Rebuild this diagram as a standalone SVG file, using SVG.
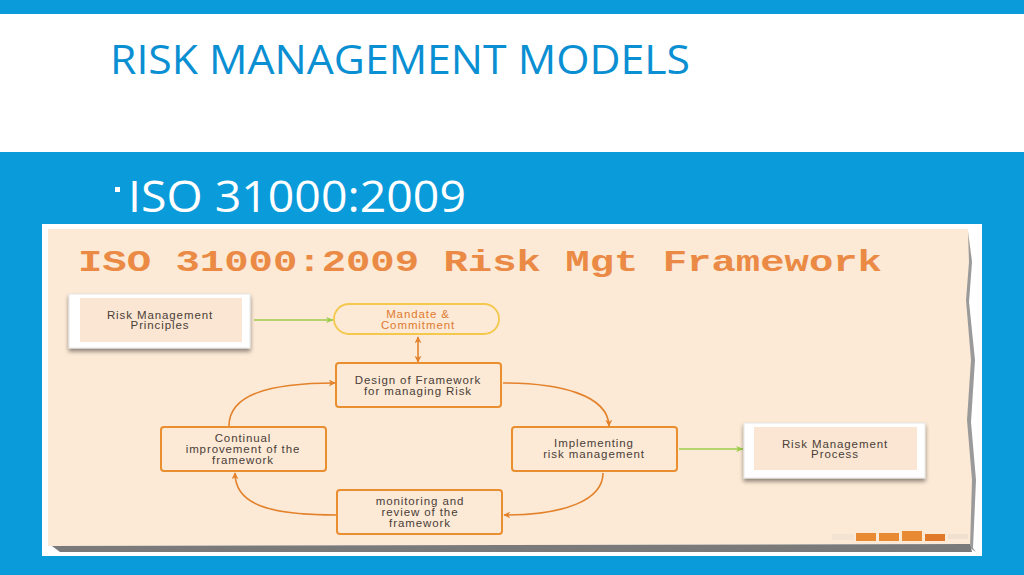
<svg xmlns="http://www.w3.org/2000/svg" width="1024" height="575" viewBox="0 0 1024 575">
<defs>
<style>
.hdr{font-family:"Open Sans","Noto Sans",sans-serif;fill:#0a8fd3}
.lbl{font-family:"Liberation Sans",Arial,sans-serif;font-size:11.5px;letter-spacing:0.9px;fill:#4a4038;text-anchor:middle}
.ob{fill:#fce9d6;stroke:#ea8f2f;stroke-width:2}
.wb{fill:#ffffff;stroke:#e6e6e6;stroke-width:1}
.ib{fill:#fae6d2}
.cur{fill:none;stroke:#e3822a;stroke-width:1.6}
.grn{fill:none;stroke:#9ccc4a;stroke-width:1.5}
</style>
<marker id="ao" viewBox="0 0 10 10" refX="9" refY="5" markerWidth="7" markerHeight="7" orient="auto-start-reverse" markerUnits="userSpaceOnUse">
<path d="M0,0 L10,5 L0,10 L3,5 Z" fill="#e3822a"/>
</marker>
<marker id="ag" viewBox="0 0 10 10" refX="9" refY="5" markerWidth="8" markerHeight="8" orient="auto" markerUnits="userSpaceOnUse">
<path d="M0,1 L10,5 L0,9 L3,5 Z" fill="#9ccc4a"/>
</marker>
<filter id="sh" x="-10%" y="-10%" width="120%" height="140%">
<feGaussianBlur in="SourceAlpha" stdDeviation="2"/>
<feOffset dx="0" dy="3"/>
<feComponentTransfer><feFuncA type="linear" slope="0.45"/></feComponentTransfer>
<feMerge><feMergeNode/><feMergeNode in="SourceGraphic"/></feMerge>
</filter>
</defs>

<!-- slide background -->
<rect x="0" y="0" width="1024" height="575" fill="#0a9bdb"/>
<rect x="0" y="14" width="1024" height="138" fill="#ffffff"/>
<text class="hdr" x="110" y="74" font-size="40" textLength="580" lengthAdjust="spacingAndGlyphs">RISK MANAGEMENT MODELS</text>
<rect x="115" y="187" width="5" height="5" fill="#ffffff"/>
<text x="128" y="212" font-family="'Open Sans','Noto Sans',sans-serif" font-size="44" fill="#ffffff" textLength="338" lengthAdjust="spacingAndGlyphs">ISO 31000:2009</text>

<!-- picture frame -->
<rect x="42" y="224" width="940" height="332" fill="#ffffff"/>
<path d="M48,229 L968,229 L972,260 L969,300 L974,360 L970,420 L975,480 L972,544 L48,546 Z" fill="#fce9d6"/>
<path d="M968,232 L972,262 L969,302 L975,360 L971,422 L976,480 L973,548 L976,552 L970,548 L972,480 L967,420 L971,360 L966,300 L969,262 Z" fill="#9a9a9a"/>
<path d="M52,546 L970,544 L972,552 L60,552 Z" fill="#7a7a7a"/>
<g id="deco">
<rect x="832" y="534" width="22" height="6" fill="#f3e3d2"/>
<rect x="856" y="533" width="20" height="8" fill="#e88a34"/>
<rect x="879" y="533" width="20" height="8" fill="#e88a34"/>
<rect x="902" y="531" width="20" height="10" fill="#e88a34"/>
<rect x="925" y="534" width="20" height="7" fill="#e07a2a"/>
<rect x="948" y="534" width="20" height="5" fill="#f0e0d0"/>
</g>
<text x="78" y="271" font-family="'Liberation Mono','Courier New',monospace" font-weight="bold" font-size="30" fill="#ea8a45" textLength="804" lengthAdjust="spacingAndGlyphs">ISO 31000:2009 Risk Mgt Framework</text>

<!-- connectors -->
<g id="connectors">
<line class="grn" x1="254" y1="320" x2="333" y2="320" marker-end="url(#ag)"/>
<line class="grn" x1="679" y1="449" x2="743" y2="449" marker-end="url(#ag)"/>
<line class="cur" x1="418" y1="337" x2="418" y2="362" marker-start="url(#ao)" marker-end="url(#ao)"/>
<path class="cur" d="M229,426 C229,395 268,383 335,383" marker-end="url(#ao)"/>
<path class="cur" d="M503,383 C560,383 608,395 609,426" marker-end="url(#ao)"/>
<path class="cur" d="M603,473 C603,500 565,515 504,515" marker-end="url(#ao)"/>
<path class="cur" d="M337,515 C270,515 235,505 235,473" marker-end="url(#ao)"/>
</g>

<!-- nodes -->
<g id="principles">
<rect class="wb" x="69" y="294" width="181" height="54" filter="url(#sh)"/>
<rect class="ib" x="80" y="298" width="162" height="44"/>
<text class="lbl" x="160" y="319">Risk Management</text>
<text class="lbl" x="160" y="329">Principles</text>
</g>
<g id="mandate">
<rect x="334" y="304" width="165" height="30" rx="15" fill="#fce9d6" stroke="#f4c84a" stroke-width="1.8"/>
<text class="lbl" x="418" y="318" style="fill:#e07b30">Mandate &amp;</text>
<text class="lbl" x="418" y="329" style="fill:#e07b30">Commitment</text>
</g>
<g id="design">
<rect class="ob" x="336" y="363" width="165" height="44" rx="3"/>
<text class="lbl" x="418" y="384">Design of Framework</text>
<text class="lbl" x="418" y="395">for managing Risk</text>
</g>
<g id="continual">
<rect class="ob" x="161" y="427" width="165" height="44" rx="3"/>
<text class="lbl" x="243" y="442">Continual</text>
<text class="lbl" x="243" y="453">improvement of the</text>
<text class="lbl" x="243" y="464">framework</text>
</g>
<g id="implementing">
<rect class="ob" x="512" y="427" width="165" height="44" rx="3"/>
<text class="lbl" x="594" y="447">Implementing</text>
<text class="lbl" x="594" y="458">risk management</text>
</g>
<g id="process">
<rect class="wb" x="744" y="423" width="181" height="55" filter="url(#sh)"/>
<rect class="ib" x="754" y="427" width="163" height="43"/>
<text class="lbl" x="835" y="448">Risk Management</text>
<text class="lbl" x="835" y="458">Process</text>
</g>
<g id="monitoring">
<rect class="ob" x="337" y="490" width="165" height="44" rx="3"/>
<text class="lbl" x="420" y="505">monitoring and</text>
<text class="lbl" x="420" y="516">review of the</text>
<text class="lbl" x="420" y="527">framework</text>
</g>
</svg>
